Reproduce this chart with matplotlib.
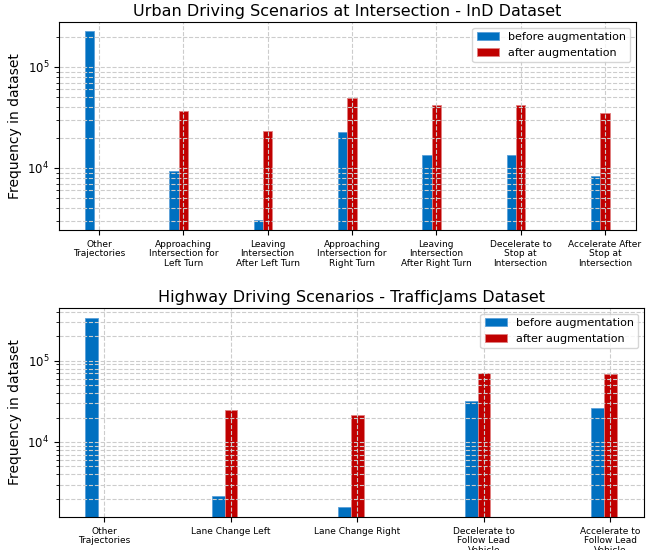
import matplotlib
matplotlib.use("Agg")
import matplotlib.pyplot as plt
import numpy as np

# urban (inD) scenarios
ind_labels = ["Other\nTrajectories", "Approaching\nIntersection for\nLeft Turn",
              "Leaving\nIntersection\nAfter Left Turn", "Approaching\nIntersection for\nRight Turn",
              "Leaving\nIntersection\nAfter Right Turn", "Decelerate to\nStop at\nIntersection",
              "Accelerate After\nStop at\nIntersection"]
ind_before = [226000, 9400, 3050, 22600, 13300, 13500, 8300]
ind_after = [0, 36800, 23000, 49400, 41900, 41900, 34900]

# highway (trafficjams) scenarios
hw_labels = ["Other\nTrajectories", "Lane Change Left", "Lane Change Right",
             "Decelerate to\nFollow Lead\nVehicle", "Accelerate to\nFollow Lead\nVehicle"]
hw_before = [338000, 2170, 1575, 31900, 26400]
hw_after = [0, 25000, 21500, 71100, 67900]

BLUE = "#0070c0"
RED = "#c00000"

W, H = 659, 550
fig = plt.figure(figsize=(W / 100, H / 100), dpi=100)


def draw(ax, labels, before, after, width, title, ylim, xlim):
    x = np.arange(len(labels))
    ax.bar(x - width, before, width, color=BLUE, edgecolor="#5aa0d8", linewidth=0.6,
           label="before augmentation")
    ax.bar(x, after, width, color=RED, edgecolor="#e08080", linewidth=0.6,
           label="after augmentation")
    ax.set_yscale("log")
    ax.set_ylim(*ylim)
    ax.set_xlim(*xlim)
    ax.set_xticks(x)
    ax.set_xticklabels(labels, fontsize=6.5, linespacing=1.1)
    ax.tick_params(axis="y", labelsize=8.5)
    ax.set_ylabel("Frequency in dataset", fontsize=10)
    ax.set_title(title, fontsize=11.5, pad=4)
    ax.grid(True, which="both", linestyle="--", color="#cccccc", linewidth=0.8)
    ax.legend(loc="upper right", fontsize=8)


def box(l, t, r, b):
    return [l / W, 1 - b / H, (r - l) / W, (b - t) / H]


ax1 = fig.add_axes(box(59, 22, 636, 230))
draw(ax1, ind_labels, ind_before, ind_after, 0.11,
     "Urban Driving Scenarios at Intersection - InD Dataset",
     (2430, 2.79e5), (-0.474, 6.368))

ax2 = fig.add_axes(box(59, 308, 644, 517))
draw(ax2, hw_labels, hw_before, hw_after, 0.1,
     "Highway Driving Scenarios - TrafficJams Dataset",
     (1195, 4.45e5), (-0.359, 4.266))

fig.savefig("out.png", dpi=100)
